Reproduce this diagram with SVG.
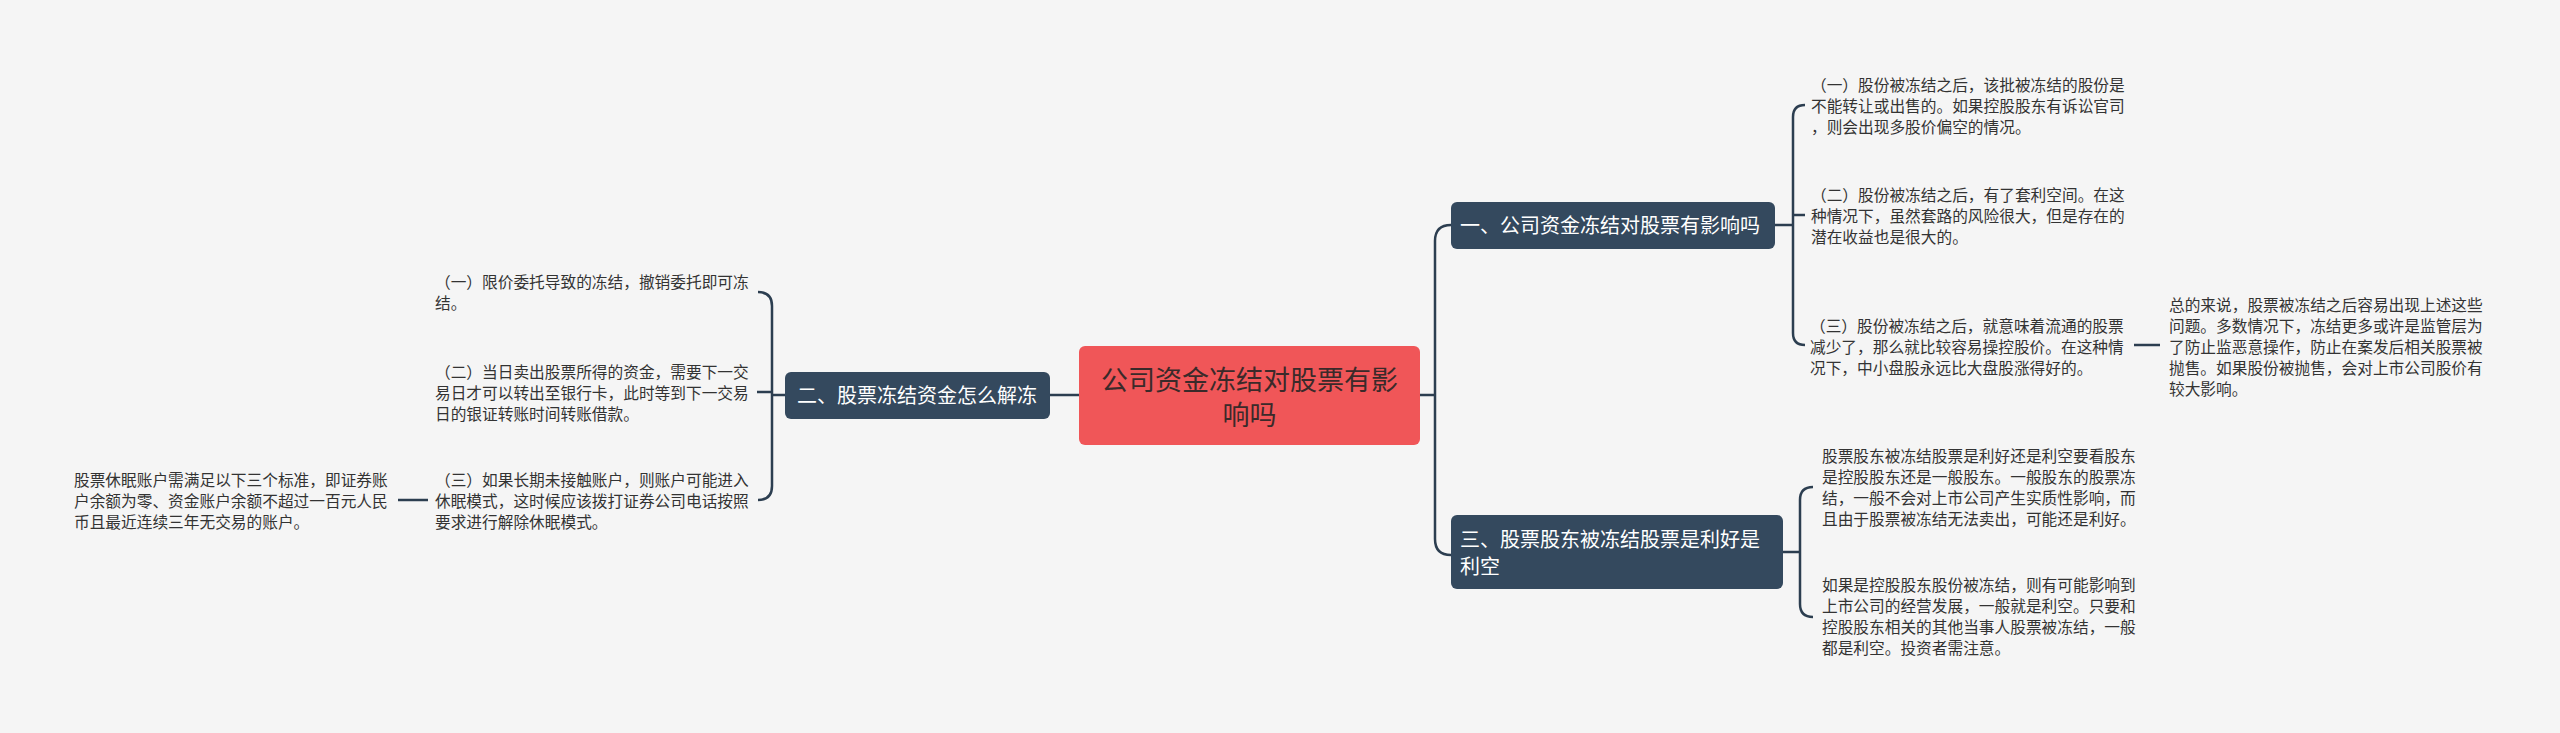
<svg xmlns="http://www.w3.org/2000/svg" width="2560" height="733" viewBox="0 0 2560 733">
<style>
text{font-family:"Noto Sans CJK SC","Noto Sans",sans-serif;}
.t{font-size:15.7px;fill:#333333;}
.b{font-size:20px;fill:#ffffff;}
.r{font-size:27px;fill:#3a2a2a;text-anchor:middle;}
.bn{fill:#34495e;}
.c{fill:none;stroke:#2c3e50;stroke-width:2.5;}
</style>
<rect width="2560" height="733" fill="#f5f5f5"/>
<g id="connectors">
<path class="c" d="M1079,395 H1050"/>
<path class="c" d="M1420,395 H1435"/>
<path class="c" d="M1451,225 Q1435,225 1435,241 V539 Q1435,555 1451,555"/>
<path class="c" d="M1775,225 H1793"/>
<path class="c" d="M1805,105 Q1793,105 1793,117 V333 Q1793,345 1805,345"/>
<path class="c" d="M1793,215 H1805"/>
<path class="c" d="M2134,345 H2160"/>
<path class="c" d="M1783,552 H1800"/>
<path class="c" d="M1813,487 Q1800,487 1800,500 V604 Q1800,617 1813,617"/>
<path class="c" d="M785,395 H772"/>
<path class="c" d="M758,292 Q772,292 772,306 V486 Q772,500 758,500"/>
<path class="c" d="M772,392 H757"/>
<path class="c" d="M428,500 H398"/>
</g>
<g id="root">
<rect x="1079" y="346" width="341" height="99" rx="6" fill="#f05658"/>
<text class="r" x="1249.5" y="390">公司资金冻结对股票有影</text>
<text class="r" x="1249.5" y="425">响吗</text>
</g>
<g id="branch1">
<rect class="bn" x="1451" y="202" width="324" height="47" rx="6"/>
<text class="b" x="1460" y="233">一、公司资金冻结对股票有影响吗</text>
</g>
<g id="branch2">
<rect class="bn" x="785" y="372" width="265" height="47" rx="6"/>
<text class="b" x="797" y="403">二、股票冻结资金怎么解冻</text>
</g>
<g id="branch3">
<rect class="bn" x="1451" y="515" width="332" height="74" rx="6"/>
<text class="b" x="1460" y="547">三、股票股东被冻结股票是利好是</text>
<text class="b" x="1460" y="574">利空</text>
</g>
<g id="b1c1">
<text class="t" x="1811" y="91">（一）股份被冻结之后，该批被冻结的股份是</text>
<text class="t" x="1811" y="112">不能转让或出售的。如果控股股东有诉讼官司</text>
<text class="t" x="1811" y="133">，则会出现多股价偏空的情况。</text>
</g>
<g id="b1c2">
<text class="t" x="1811" y="201">（二）股份被冻结之后，有了套利空间。在这</text>
<text class="t" x="1811" y="222">种情况下，虽然套路的风险很大，但是存在的</text>
<text class="t" x="1811" y="243">潜在收益也是很大的。</text>
</g>
<g id="b1c3">
<text class="t" x="1810" y="332">（三）股份被冻结之后，就意味着流通的股票</text>
<text class="t" x="1810" y="353">减少了，那么就比较容易操控股价。在这种情</text>
<text class="t" x="1810" y="374">况下，中小盘股永远比大盘股涨得好的。</text>
</g>
<g id="b1c3s">
<text class="t" x="2169" y="311">总的来说，股票被冻结之后容易出现上述这些</text>
<text class="t" x="2169" y="332">问题。多数情况下，冻结更多或许是监管层为</text>
<text class="t" x="2169" y="353">了防止监恶意操作，防止在案发后相关股票被</text>
<text class="t" x="2169" y="374">抛售。如果股份被抛售，会对上市公司股价有</text>
<text class="t" x="2169" y="395">较大影响。</text>
</g>
<g id="b3c1">
<text class="t" x="1822" y="462">股票股东被冻结股票是利好还是利空要看股东</text>
<text class="t" x="1822" y="483">是控股股东还是一般股东。一般股东的股票冻</text>
<text class="t" x="1822" y="504">结，一般不会对上市公司产生实质性影响，而</text>
<text class="t" x="1822" y="525">且由于股票被冻结无法卖出，可能还是利好。</text>
</g>
<g id="b3c2">
<text class="t" x="1822" y="591">如果是控股股东股份被冻结，则有可能影响到</text>
<text class="t" x="1822" y="612">上市公司的经营发展，一般就是利空。只要和</text>
<text class="t" x="1822" y="633">控股股东相关的其他当事人股票被冻结，一般</text>
<text class="t" x="1822" y="654">都是利空。投资者需注意。</text>
</g>
<g id="b2c1">
<text class="t" x="435" y="288">（一）限价委托导致的冻结，撤销委托即可冻</text>
<text class="t" x="435" y="309">结。</text>
</g>
<g id="b2c2">
<text class="t" x="435" y="378">（二）当日卖出股票所得的资金，需要下一交</text>
<text class="t" x="435" y="399">易日才可以转出至银行卡，此时等到下一交易</text>
<text class="t" x="435" y="420">日的银证转账时间转账借款。</text>
</g>
<g id="b2c3">
<text class="t" x="435" y="486">（三）如果长期未接触账户，则账户可能进入</text>
<text class="t" x="435" y="507">休眠模式，这时候应该拨打证券公司电话按照</text>
<text class="t" x="435" y="528">要求进行解除休眠模式。</text>
</g>
<g id="b2c3s">
<text class="t" x="74" y="486">股票休眠账户需满足以下三个标准，即证券账</text>
<text class="t" x="74" y="507">户余额为零、资金账户余额不超过一百元人民</text>
<text class="t" x="74" y="528">币且最近连续三年无交易的账户。</text>
</g>
</svg>
